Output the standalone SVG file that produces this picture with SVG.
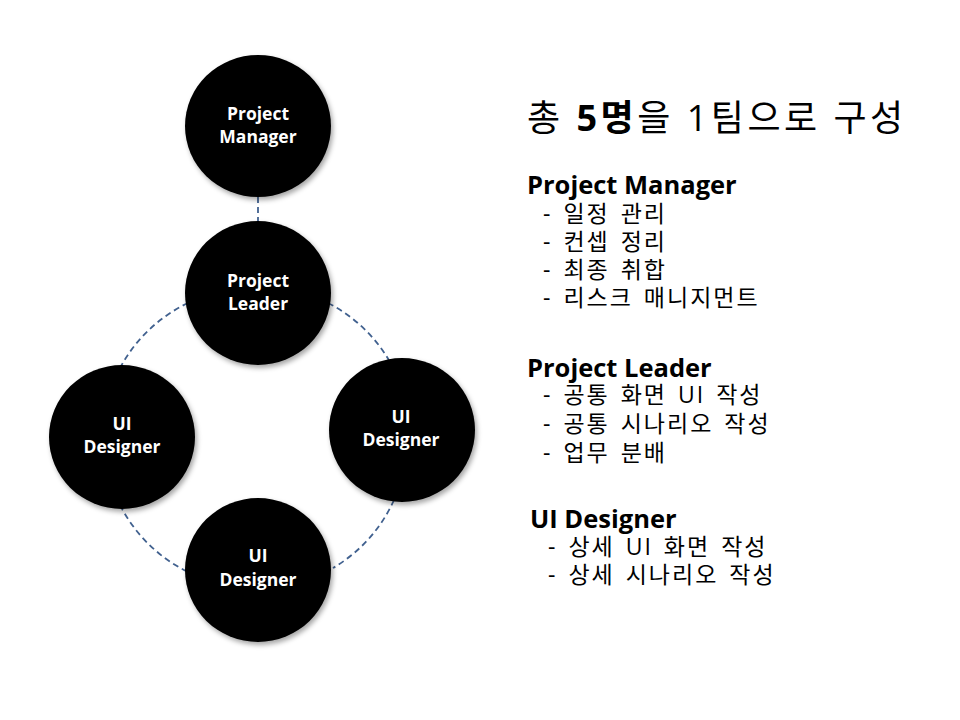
<svg xmlns="http://www.w3.org/2000/svg" width="960" height="720" viewBox="0 0 960 720">
<defs>
<filter id="sh" x="-20%" y="-20%" width="140%" height="140%">
<feDropShadow dx="2" dy="3" stdDeviation="2.5" flood-color="#000" flood-opacity="0.35"/>
</filter>
<style>
.node{fill:#000;filter:url(#sh)}
.nl{fill:#fff;font-family:"Open Sans","Noto Sans CJK KR",sans-serif;font-weight:bold;font-size:17.5px;text-anchor:middle}
.con{fill:none;stroke:#41618F;stroke-width:1.8;stroke-dasharray:6 4}
.t{font-family:"Open Sans","Noto Sans CJK KR",sans-serif;fill:#000}
.h{font-size:25.5px;font-weight:bold}
.i{font-size:23px;letter-spacing:2px;word-spacing:3px}
</style>
</defs>
<rect width="960" height="720" fill="#fff"/>
<g id="connectors">
<line class="con" x1="258" y1="197" x2="258" y2="222"/>
<path class="con" d="M188 303 A150 150 0 0 0 120 368"/>
<path class="con" d="M328 303 A150 150 0 0 1 390 362"/>
<path class="con" d="M120 505 A150 150 0 0 0 188 572"/>
<path class="con" d="M394 500 A150 150 0 0 1 333 568"/>
</g>
<g id="pm">
<ellipse class="node" cx="258" cy="126" rx="73" ry="71"/>
<text class="nl" x="258" y="120">Project</text>
<text class="nl" x="258" y="143">Manager</text>
</g>
<g id="pl">
<ellipse class="node" cx="258" cy="293" rx="73" ry="72"/>
<text class="nl" x="258" y="287">Project</text>
<text class="nl" x="258" y="310">Leader</text>
</g>
<g id="uid-left">
<ellipse class="node" cx="122" cy="437" rx="73" ry="72"/>
<text class="nl" x="122" y="430">UI</text>
<text class="nl" x="122" y="453">Designer</text>
</g>
<g id="uid-right">
<ellipse class="node" cx="402" cy="430" rx="73" ry="72"/>
<text class="nl" x="401" y="423">UI</text>
<text class="nl" x="401" y="446">Designer</text>
</g>
<g id="uid-bottom">
<ellipse class="node" cx="258" cy="570" rx="73" ry="72"/>
<text class="nl" x="258" y="562">UI</text>
<text class="nl" x="258" y="586">Designer</text>
</g>
<g id="description">
<text class="t" x="527" y="131" font-size="36" letter-spacing="3.5" xml:space="preserve">총 <tspan font-weight="bold">5명</tspan>을 1팀으로 구성</text>
<text class="t h" x="527" y="194">Project Manager</text>
<text class="t i" x="543" y="222">- 일정 관리</text>
<text class="t i" x="543" y="250">- 컨셉 정리</text>
<text class="t i" x="543" y="278">- 최종 취합</text>
<text class="t i" x="543" y="306">- 리스크 매니지먼트</text>
<text class="t h" x="527" y="377">Project Leader</text>
<text class="t i" x="543" y="403">- 공통 화면 UI 작성</text>
<text class="t i" x="543" y="432">- 공통 시나리오 작성</text>
<text class="t i" x="543" y="461">- 업무 분배</text>
<text class="t h" x="530" y="528">UI Designer</text>
<text class="t i" x="548" y="555">- 상세 UI 화면 작성</text>
<text class="t i" x="548" y="583">- 상세 시나리오 작성</text>
</g>
</svg>
